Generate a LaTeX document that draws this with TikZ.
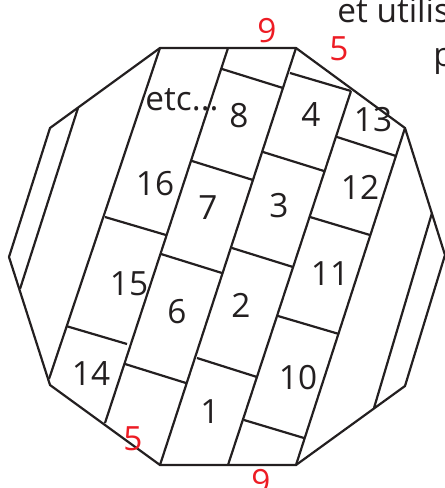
\documentclass[tikz,border=0pt]{standalone}
\usepackage{fontspec}
\setmainfont{Open Sans}
\definecolor{ink}{HTML}{231F20}
\definecolor{mark}{HTML}{ED1C24}
\begin{document}
\begin{tikzpicture}[x=0.02cm, y=-0.02cm,
                paths/.style={ink, line width=1.25pt, line join=miter},
                cell/.style={anchor=base, inner sep=0pt, text=ink, font=\fontsize{19}{19}\selectfont},
                count/.style={anchor=base, inner sep=0pt, text=mark, font=\fontsize{19}{19}\selectfont}
            ]
                \useasboundingbox (0,0) rectangle (445,488);
                \clip (0,0) rectangle (445,488);

                % Corners of the outline
                \coordinate (a) at (160,48);
                \coordinate (b) at (296,48);
                \coordinate (c) at (405,128);
                \coordinate (d) at (445,255);
                \coordinate (e) at (405,386);
                \coordinate (f) at (296,465);
                \coordinate (g) at (160,465);
                \coordinate (h) at (50,385);
                \coordinate (i) at (9,257);
                \coordinate (j) at (50,128);

                % Ends of the long strips
                \coordinate (l1) at (78,108);
                \coordinate (l2) at (20,289);
                \coordinate (t1) at (49,379);
                \coordinate (s1) at (228,48);
                \coordinate (s2) at (105,423);
                \coordinate (s3) at (351,91);
                \coordinate (s4) at (228,465);
                \coordinate (r1) at (432,213);
                \coordinate (r2) at (374,408);

                % Paths: outline
                \draw[paths] (a) -- (b) -- (c) -- (d) -- (e) -- (f) -- (g) -- (h) -- (i) -- (j) -- cycle;

                % Paths: long strips
                \draw[paths] (a) -- (t1);
                \draw[paths] (s1) -- (s2);
                \draw[paths] (b) -- (g);
                \draw[paths] (s3) -- (s4);
                \draw[paths] (c) -- (f);
                \draw[paths] (l1) -- (l2);
                \draw[paths] (r1) -- (r2);

                % Paths: short ends of the bricks
                \foreach \xa/\ya/\xb/\yb in {222/69/283/88, 192/161/253/180, 161/254/222/273, 125/364/186/383,
                                             290/73/351/91, 263/152/324/171, 232/248/293/267, 197/358/257/377,
                                             337/137/396/156, 310/217/370/235, 278/316/339/334, 244/420/304/438,
                                             105/217/166/235, 66/326/127/344} {
                    \draw[paths] (\xa,\ya) -- (\xb,\yb);
                }

                % Nodes
                \node[cell] (n1) at (210,423) {1};
                \node[cell] (n2) at (241,317) {2};
                \node[cell] (n3) at (279,217) {3};
                \node[cell] (n4) at (311,126) {4};
                \node[cell] (n6) at (177,323) {6};
                \node[cell] (n7) at (208,219) {7};
                \node[cell] (n8) at (239,127) {8};
                \node[cell] (n10) at (298,389) {10};
                \node[cell] (n11) at (330,285) {11};
                \node[cell] (n12) at (360,199) {12};
                \node[cell] (n13) at (373,131) {13};
                \node[cell] (n14) at (91,385) {14};
                \node[cell] (n15) at (129,295) {15};
                \node[cell] (n16) at (155,195) {16};
                \node[cell] (etc) at (182,110) {etc...};

                % Red counts
                \node[count] (top9) at (267,42) {9};
                \node[count] (top5) at (339,60) {5};
                \node[count] (low5) at (133,450) {5};
                \node[count] (low9) at (261,493) {9};

                % Cut off text
                \node[cell, anchor=base west] (txt1) at (337,22) {et utilis};
                \node[cell, anchor=base west] (txt2) at (433,66) {p};
            \end{tikzpicture}
\end{document}
